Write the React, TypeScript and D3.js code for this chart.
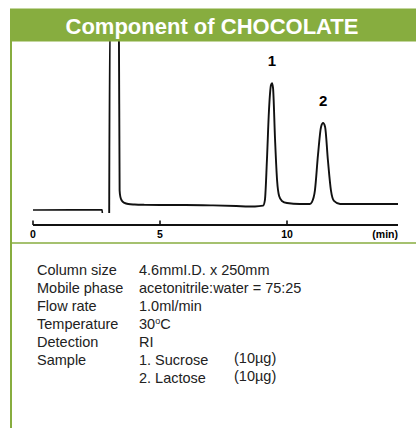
import * as d3 from 'd3'

// trace of the chromatogram (minutes, relative signal)
const preTime = [0, 1.5, 2.72, 2.73]
const preSignal = [-3.1, -3.0, -3.0, -4.9]

const traceTime = [
  3.0, 3.03, 3.38, 3.41, 3.44, 3.5, 3.6, 3.75, 4.0, 4.4, 5, 6, 7, 8, 8.5, 8.74, 9.06, 9.13, 9.21, 9.29,
  9.37, 9.41, 9.45, 9.53, 9.61, 9.69, 9.8, 10.0, 10.5, 10.9, 10.98, 11.1, 11.22, 11.34, 11.42, 11.5,
  11.61, 11.73, 11.85, 12.09, 13, 14.37,
]
const traceSignal = [
  -4.9, 115, 115, 9, 5, 2.6, 1.3, 0.6, 0.3, 0.1, 0, 0, -0.2, -0.6, -0.9, -0.9, -0.4, 3, 27.6, 58,
  73.6, 74.8, 71.8, 40, 15, 5.5, 2.5, 1.2, 0.6, 0.6, 1.8, 9, 30.7, 47.9, 50.3, 47.9,
  27.6, 9, 2.5, 0.6, 0.6, 0.6,
]

const tickValues = [0, 5, 10]
const peakLabels = ['1', '2']
const peakTimes = [9.41, 11.42]
const peakHeights = [74.8, 50.3]

const infoLabels = ['Column size', 'Mobile phase', 'Flow rate', 'Temperature', 'Detection', 'Sample', '']
const infoValues = ['4.6mmI.D. x 250mm', 'acetonitrile:water = 75:25', '1.0ml/min', '30', 'RI', '1. Sucrose', '2. Lactose']
const amounts = ['', '', '', '', '', '(10\u00b5g)', '(10\u00b5g)']

const green = '#87ad3f'
const font = "'Liberation Sans', Arial, sans-serif"

export default function App() {
  const x = d3.scaleLinear().domain([0, 10]).range([33, 287])
  const y = d3.scaleLinear().domain([0, 100]).range([205, 42])
  const line = d3
    .line<number>()
    .x((t) => x(t))
    .curve(d3.curveMonotoneX)

  const prePath = line.y((_, i) => y(preSignal[i]))(preTime) ?? ''
  const mainPath = line.y((_, i) => y(traceSignal[i]))(traceTime) ?? ''
  const axisEnd = 14.37

  return (
    <svg
      width={416}
      height={428}
      style={{ position: 'absolute', left: 0, top: 0, background: '#fff' }}
      fontFamily={font}
    >
      <path d={prePath} fill="none" stroke="#111" strokeWidth={1.6} />
      <path d={mainPath} fill="none" stroke="#111" strokeWidth={1.9} strokeLinejoin="round" />

      {peakLabels.map((lab, i) => (
        <text
          key={lab}
          x={x(peakTimes[i])}
          y={y(peakHeights[i]) - 17}
          textAnchor="middle"
          fontSize={15}
          fontWeight="bold"
        >
          {lab}
        </text>
      ))}

      {/* time axis */}
      <line x1={x(0)} x2={x(axisEnd)} y1={225} y2={225} stroke="#111" strokeWidth={1.8} />
      {tickValues.map((t) => (
        <g key={t}>
          <line x1={x(t)} x2={x(t)} y1={225} y2={220.5} stroke="#111" strokeWidth={1.6} />
          <text x={x(t)} y={237.5} textAnchor="middle" fontSize={10.5} fontWeight="bold">
            {t}
          </text>
        </g>
      ))}
      <text x={x(axisEnd)} y={237.5} textAnchor="end" fontSize={10.5} fontWeight="bold">
        (min)
      </text>

      {/* frame */}
      <rect x={10} y={8.5} width={406} height={33} fill={green} />
      <text x={212} y={34} textAnchor="middle" fill="#fff" fontSize={22} fontWeight="bold">
        Component of CHOCOLATE
      </text>
      <line x1={11} x2={11} y1={41} y2={428} stroke={green} strokeWidth={2} />
      <line x1={10} x2={416} y1={243} y2={243} stroke={green} strokeWidth={1.5} />

      {/* conditions */}
      {infoLabels.map((lab, i) => (
        <g key={i} fontSize={14.5} fill="#222">
          <text x={37} y={274.5 + i * 18}>
            {lab}
          </text>
          <text x={139} y={274.5 + i * 18}>
            {infoValues[i]}
            {i === 3 && (
              <>
                <tspan dy={-5} fontSize={9}>
                  o
                </tspan>
                <tspan dy={5}>C</tspan>
              </>
            )}
          </text>
          {amounts[i] && (
            <text x={234} y={272.5 + i * 18}>
              {amounts[i]}
            </text>
          )}
        </g>
      ))}
    </svg>
  )
}
